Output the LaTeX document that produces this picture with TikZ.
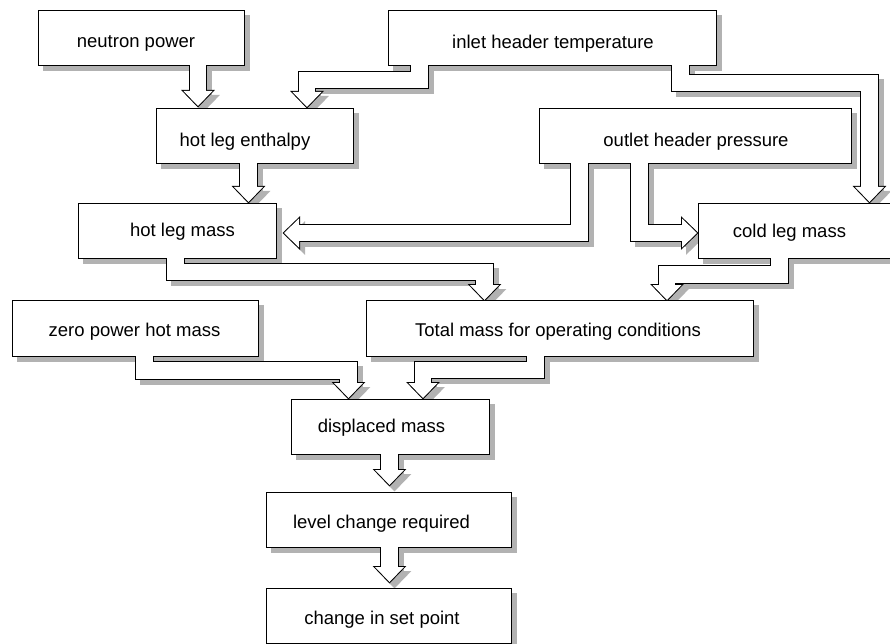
\documentclass[tikz,border=0pt]{standalone}
\usepackage{fontspec}
\setmainfont{Liberation Sans}
\usetikzlibrary{calc}

\pgfdeclarelayer{shade}
\pgfdeclarelayer{ink}
\pgfsetlayers{shade,ink,main}

\definecolor{shadowgray}{gray}{0.7}
\newcommand\pipeinner{16.5pt}
\newcommand\pipeouter{18.5pt}

\tikzset{
  boxnode/.style={rectangle, fill=white, draw=none, inner sep=0pt, outer sep=0pt, anchor=north west},
  caption/.style={font=\fontsize{18.5pt}{22pt}\selectfont, anchor=base, inner sep=0pt},
  pipeline/.style={line join=miter, line cap=butt},
}

% framed box with drop shadow: name, left, top, right, bottom
\newcommand\flowbox[5]{%
  \node[boxnode, minimum width={(#4-#2)*1pt}, minimum height={(#5-#3)*1pt}] (#1) at (#2,#3) {};
  \begin{pgfonlayer}{shade}
    \fill[shadowgray] ([xshift=4pt,yshift=-6pt]#1.south west) rectangle ([xshift=6pt,yshift=-4pt]#1.north east);
  \end{pgfonlayer}
  \begin{pgfonlayer}{ink}
    \fill[black] ([xshift=-1pt,yshift=-1pt]#1.south west) rectangle ([xshift=1pt,yshift=1pt]#1.north east);
  \end{pgfonlayer}
}

% hollow block arrow: shaft path, head path
\newcommand\flowpipe[2]{%
  \begin{pgfonlayer}{shade}
    \begin{scope}[transform canvas={xshift=5pt,yshift=-5pt}]
      \draw[shadowgray, line width=\pipeouter, pipeline] #1;
      \filldraw[shadowgray, line width=2pt, line join=miter] #2;
    \end{scope}
  \end{pgfonlayer}
  \begin{pgfonlayer}{ink}
    \draw[black, line width=\pipeouter, pipeline] #1;
    \filldraw[black, line width=2pt, line join=miter] #2;
  \end{pgfonlayer}
  \fill[white] #2;
  \draw[white, line width=\pipeinner, pipeline] #1;
}
\newcommand\pipedown[2]{\flowpipe{#1 -- ($(#2)+(0,-12)$)}{($(#2)+(-14.5,-15)$) -- ($(#2)+(14.5,-15)$) -- (#2) -- cycle}}
\newcommand\pipeleft[2]{\flowpipe{#1 -- ($(#2)+(12,0)$)}{($(#2)+(15,-14.5)$) -- ($(#2)+(15,14.5)$) -- (#2) -- cycle}}
\newcommand\piperight[2]{\flowpipe{#1 -- ($(#2)+(-12,0)$)}{($(#2)+(-15,-14.5)$) -- ($(#2)+(-15,14.5)$) -- (#2) -- cycle}}

\begin{document}
\begin{tikzpicture}[x=1pt, y=-1pt]
  \useasboundingbox (0,0) rectangle (890,644);
  \begin{pgfonlayer}{shade}
    \fill[white] (0,0) rectangle (890,644);
  \end{pgfonlayer}

  % boxes
  \flowbox{neutron}{39}{11}{244}{65}
  \flowbox{inlet}{389}{11}{716}{65}
  \flowbox{enthalpy}{157}{109}{353}{163}
  \flowbox{outlet}{540}{109}{851}{163}
  \flowbox{hotmass}{79}{204}{276}{258}
  \flowbox{coldmass}{699}{204}{899}{258}
  \flowbox{zero}{13}{301}{258}{356}
  \flowbox{total}{367}{301}{753}{356}
  \flowbox{displaced}{292}{400}{489}{454}
  \flowbox{level}{267}{493}{511}{547}
  \flowbox{setpoint}{267}{589}{511}{643}

  % arrow tips
  \path (enthalpy.north -| 198,0) ++(0,-3) coordinate (t1);
  \path (enthalpy.north -| 307,0) ++(0,-2) coordinate (t2);
  \path (hotmass.north -| 248.5,0) ++(0,-2) coordinate (t3);
  \path (coldmass.north -| 869.5,0) ++(0,-2) coordinate (t4);
  \path (hotmass.east |- 0,233) ++(8,0) coordinate (t5);
  \path (coldmass.west |- 0,233) ++(-2,0) coordinate (t6);
  \path (total.north -| 484.5,0) ++(0,-1) coordinate (t7);
  \path (total.north -| 667,0) ++(0,-1) coordinate (t8);
  \path (displaced.north -| 348.5,0) ++(0,-2) coordinate (t9);
  \path (displaced.north -| 423,0) ++(0,-2) coordinate (t10);
  \path (level.north -| 389.5,0) ++(0,-8) coordinate (t11);
  \path (setpoint.north -| 389.5,0) ++(0,-7) coordinate (t12);

  % connectors
  \pipedown{(neutron.center -| t1)}{t1}
  \pipedown{(419.5,0 |- inlet.center) -- (419.5,80) -- (t2 |- 0,80)}{t2}
  \pipedown{(enthalpy.center -| t3)}{t3}
  \pipedown{(680.5,0 |- inlet.center) -- (680.5,83) -- (t4 |- 0,83)}{t4}
  \pipeleft{(579.5,0 |- outlet.center) -- (579.5,0 |- t5)}{t5}
  \piperight{(639.5,0 |- outlet.center) -- (639.5,0 |- t6)}{t6}
  \pipedown{(175.5,0 |- hotmass.center) -- (175.5,272) -- (t7 |- 0,272)}{t7}
  \pipedown{(779.5,0 |- coldmass.center) -- (779.5,274.5) -- (t8 |- 0,274.5)}{t8}
  \pipedown{(144.5,0 |- zero.center) -- (144.5,370.5) -- (t9 |- 0,370.5)}{t9}
  \pipedown{(535.5,0 |- total.center) -- (535.5,370) -- (t10 |- 0,370)}{t10}
  \pipedown{(displaced.center -| t11)}{t11}
  \pipedown{(level.center -| t12)}{t12}

  % captions
  \node[caption] (neutron-text) at (136,48) {neutron power};
  \node[caption] (inlet-text) at (553,49) {inlet header temperature};
  \node[caption] (enthalpy-text) at (245,147) {hot leg enthalpy};
  \node[caption] (outlet-text) at (696,147) {outlet header pressure};
  \node[caption] (hotmass-text) at (182.5,236.5) {hot leg mass};
  \node[caption] (coldmass-text) at (789.5,237) {cold leg mass};
  \node[caption] (zero-text) at (134.5,336) {zero power hot mass};
  \node[caption] (total-text) at (558,336) {Total mass for operating conditions};
  \node[caption] (displaced-text) at (381.5,432) {displaced mass};
  \node[caption] (level-text) at (381.5,528) {level change required};
  \node[caption] (setpoint-text) at (382,624) {change in set point};
\end{tikzpicture}
\end{document}
